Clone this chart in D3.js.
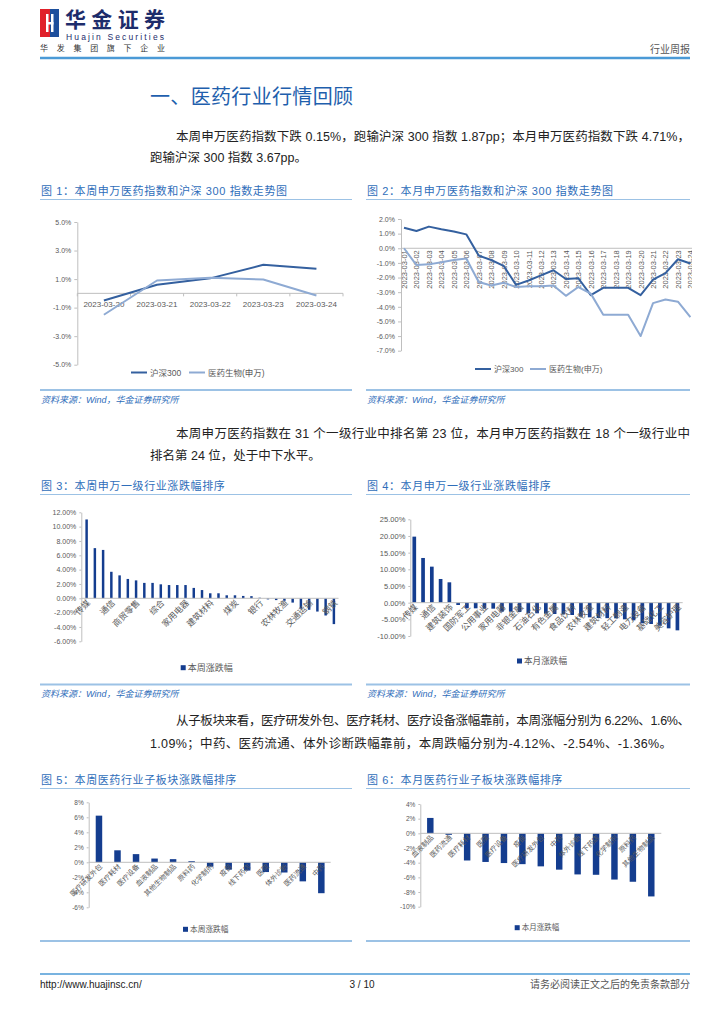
<!DOCTYPE html>
<html>
<head>
<meta charset="utf-8">
<script src="https://cdn.jsdelivr.net/npm/d3@7.9.0/dist/d3.min.js"></script>
<style>
  body { margin: 0; background: #fff; }
  svg { display: block; }
  text { font-family: "Liberation Sans", "Noto Sans CJK SC", sans-serif; }
</style>
</head>
<body>
<svg id="page" width="724" height="1024"></svg>
<script>
// ---- data ----
const weekDates = ['2023-03-20', '2023-03-21', '2023-03-22', '2023-03-23', '2023-03-24'];
const weekHs300 = [-0.5, 0.6, 1.05, 2.0, 1.72];
const weekPharma = [-1.5, 0.9, 1.1, 0.97, -0.15];

const monthDates = ['2023-03-01', '2023-03-02', '2023-03-03', '2023-03-04', '2023-03-05', '2023-03-06',
  '2023-03-07', '2023-03-08', '2023-03-09', '2023-03-10', '2023-03-11', '2023-03-12',
  '2023-03-13', '2023-03-14', '2023-03-15', '2023-03-16', '2023-03-17', '2023-03-18',
  '2023-03-19', '2023-03-20', '2023-03-21', '2023-03-22', '2023-03-23', '2023-03-24'];
const monthHs300 = [1.4, 1.18, 1.48, 1.3, 1.15, 0.95, -0.5, -0.8, -1.2, -2.5, -2.2, -1.85,
  -1.5, -2.1, -2.05, -3.2, -2.7, -2.7, -2.7, -3.2, -2.15, -1.7, -0.75, -1.04];
const monthPharma = [0, -1.15, -1.1, -0.95, -0.8, -0.7, -2.3, -2.55, -2.35, -2.65, -2.6, -2.6,
  -2.55, -3.25, -2.65, -3.1, -4.55, -4.55, -4.55, -6.0, -3.75, -3.5, -3.65, -4.71];

const indWeekNames = ['传媒', '计算机', '电子', '通信', '社会服务', '美容护理', '商贸零售', '机械设备',
  '国防军工', '综合', '汽车', '轻工制造', '家用电器', '环保', '食品饮料', '建筑材料', '纺织服饰',
  '建筑装饰', '煤炭', '公用事业', '电力设备', '银行', '医药生物', '非银金融', '农林牧渔', '基础化工',
  '石油石化', '交通运输', '房地产', '有色金属', '钢铁'];
const indWeekValues = [11.0, 7.0, 6.75, 3.7, 3.2, 2.7, 2.5, 2.15, 2.15, 1.95, 1.85, 1.85, 1.85,
  1.45, 1.15, 0.7, 0.7, 0.42, 0.42, 0.33, 0.3, 0.08, -0.15, -0.25, -0.35, -0.6, -1.45, -1.6,
  -1.85, -2.4, -3.6];

const indMonthNames = ['传媒', '计算机', '通信', '商贸零售', '建筑装饰', '煤炭', '国防军工', '银行',
  '公用事业', '综合', '家用电器', '环保', '非银金融', '房地产', '石油石化', '纺织服饰', '有色金属',
  '交通运输', '食品饮料', '机械设备', '农林牧渔', '社会服务', '建筑材料', '医药生物', '轻工制造',
  '汽车', '电力设备', '电子', '基础化工', '钢铁', '美容护理'];
const indMonthValues = [19.8, 13.4, 10.8, 7.1, 6.1, -0.7, -1.7, -1.7, -1.8, -1.8, -2.7, -2.7,
  -2.8, -3.2, -3.2, -3.3, -3.4, -3.5, -3.7, -4.2, -4.4, -4.6, -4.65, -4.71, -5.0, -5.3, -6.2,
  -6.4, -6.9, -7.7, -8.3];

const subWeekNames = ['医疗研发外包', '医疗耗材', '医疗设备', '血液制品', '其他生物制品', '原料药',
  '化学制剂', '疫苗', '线下药店', '医院', '体外诊断', '医药流通', '中药'];
const subWeekValues = [6.22, 1.6, 1.09, 0.5, 0.42, 0.15, -0.58, -0.98, -1.1, -1.3, -1.36, -2.54, -4.12];

const subMonthNames = ['血液制品', '医药流通', '医疗耗材', '医院', '医疗设备', '疫苗', '医疗研发外包',
  '中药', '体外诊断', '线下药店', '化学制剂', '原料药', '其他生物制品'];
const subMonthValues = [2.1, -0.2, -3.7, -3.9, -4.05, -4.2, -4.5, -4.95, -5.6, -5.65, -6.3, -6.6, -8.6];

// ---- styles ----
const svg = d3.select('#page');
const BLUE = '#2f6eba';
const RULE = '#9cc2e5';
const DARK = '#34609f';
const LIGHT = '#8eaad3';
const BAR = '#143d8f';
const AXIS = '#bfbfbf';
const TICK = '#595959';

// ---- page furniture ----
function header() {
  svg.append('rect').attr('x', 40).attr('y', 9).attr('width', 10).attr('height', 28).attr('fill', '#e0202a');
  svg.append('rect').attr('x', 50).attr('y', 9).attr('width', 9).attr('height', 28).attr('fill', '#1d4f9c');
  svg.append('rect').attr('x', 46).attr('y', 14).attr('width', 2.5).attr('height', 18).attr('fill', '#fff');
  svg.append('rect').attr('x', 51).attr('y', 14).attr('width', 2.5).attr('height', 18).attr('fill', '#fff');
  svg.append('rect').attr('x', 46).attr('y', 22).attr('width', 7.5).attr('height', 2.5).attr('fill', '#fff');
  svg.append('text').attr('x', 65).attr('y', 27).attr('font-size', 21).attr('font-weight', 'bold')
    .attr('fill', '#1d2c6b').attr('textLength', 100).text('华金证券');
  svg.append('text').attr('x', 66).attr('y', 40).attr('font-size', 8.5).attr('fill', '#1d2c6b')
    .attr('textLength', 98).text('Huajin Securities');
  svg.append('text').attr('x', 40).attr('y', 51).attr('font-size', 8).attr('fill', '#333')
    .attr('textLength', 125).text('华发集团旗下企业');
  svg.append('text').attr('x', 690).attr('y', 53).attr('font-size', 10).attr('fill', '#555')
    .attr('text-anchor', 'end').text('行业周报');
  svg.append('line').attr('x1', 40).attr('x2', 690).attr('y1', 58).attr('y2', 58)
    .attr('stroke', '#4b9ad6').attr('stroke-width', 2.5);
}

function footer() {
  svg.append('line').attr('x1', 40).attr('x2', 690).attr('y1', 974).attr('y2', 974)
    .attr('stroke', '#4b9ad6').attr('stroke-width', 1.5);
  svg.append('text').attr('x', 40).attr('y', 988).attr('font-size', 10).attr('fill', '#222')
    .text('http://www.huajinsc.cn/');
  svg.append('text').attr('x', 362).attr('y', 988).attr('font-size', 10).attr('fill', '#222')
    .attr('text-anchor', 'middle').text('3 / 10');
  svg.append('text').attr('x', 690).attr('y', 988).attr('font-size', 10).attr('fill', '#555')
    .attr('text-anchor', 'end').text('请务必阅读正文之后的免责条款部分');
}

function para(x, y, text, width) {
  const t = svg.append('text').attr('x', x).attr('y', y).attr('font-size', 12.5).attr('fill', '#222').text(text);
  if (width) t.attr('textLength', width).attr('lengthAdjust', 'spacing');
}

function figTitle(x0, x1, y, text) {
  svg.append('text').attr('x', x0 + 1).attr('y', y).attr('font-size', 11).attr('fill', BLUE)
    .attr('letter-spacing', 0.6).text(text);
  svg.append('line').attr('x1', x0).attr('x2', x1).attr('y1', y + 4.5).attr('y2', y + 4.5)
    .attr('stroke', RULE).attr('stroke-width', 1);
}

function figBottom(x0, x1, y) {
  svg.append('line').attr('x1', x0).attr('x2', x1).attr('y1', y).attr('y2', y)
    .attr('stroke', RULE).attr('stroke-width', 2);
}

function source(x, y) {
  svg.append('text').attr('x', x).attr('y', y).attr('font-size', 9).attr('fill', BLUE)
    .attr('font-style', 'italic').text('资料来源：Wind，华金证券研究所');
}

function styleAxis(a, fs) {
  a.select('.domain').attr('stroke', AXIS);
  a.selectAll('.tick line').attr('stroke', AXIS);
  a.selectAll('.tick text').attr('font-size', fs).attr('fill', TICK)
    .style('font-family', '"Liberation Sans", sans-serif');
}

function legendLine(x, y, color, label, fs) {
  svg.append('line').attr('x1', x).attr('x2', x + 16).attr('y1', y).attr('y2', y)
    .attr('stroke', color).attr('stroke-width', 2);
  svg.append('text').attr('x', x + 19).attr('y', y + fs * 0.36).attr('font-size', fs).attr('fill', TICK).text(label);
}

function legendSquare(x, y, label, fs) {
  svg.append('rect').attr('x', x).attr('y', y - 2.5).attr('width', 5).attr('height', 5).attr('fill', BAR);
  svg.append('text').attr('x', x + 7).attr('y', y + fs * 0.36).attr('font-size', fs).attr('fill', TICK).text(label);
}

// ---- line charts ----
function lineChart(o) {
  const g = svg.append('g');
  if (o.clipRight) {
    const id = 'clip' + Math.round(o.axisX);
    svg.append('clipPath').attr('id', id).append('rect')
      .attr('x', o.axisX - 60).attr('y', o.yRange[1] - 10).attr('width', o.clipRight - o.axisX + 60).attr('height', 200);
    g.attr('clip-path', `url(#${id})`);
  }
  const y = d3.scaleLinear().domain(o.yDomain).range(o.yRange);
  const x = o.banded
    ? d3.scaleBand().domain(o.cats).range(o.xRange)
    : d3.scalePoint().domain(o.cats).range(o.xRange);
  const cx = c => o.banded ? x(c) + x.bandwidth() / 2 : x(c);

  const ya = g.append('g').attr('transform', `translate(${o.axisX},0)`)
    .call(d3.axisLeft(y).tickValues(o.yTicks).tickSize(3).tickSizeOuter(0).tickFormat(o.fmt));
  styleAxis(ya, o.tickFs);

  // category axis sits on the zero line
  const xa = g.append('g').attr('transform', `translate(0,${y(0)})`)
    .call(d3.axisBottom(x).tickSize(0).tickSizeOuter(0).tickFormat(''));
  xa.select('.domain').attr('stroke', AXIS).attr('d', `M${o.axisX},0H${o.xEnd}`);
  if (o.banded) {
    o.cats.forEach((c, i) => {
      g.append('line').attr('x1', x(c)).attr('x2', x(c)).attr('y1', y(0)).attr('y2', y(0) + 3).attr('stroke', AXIS);
    });
    g.append('line').attr('x1', o.xRange[1]).attr('x2', o.xRange[1]).attr('y1', y(0)).attr('y2', y(0) + 3).attr('stroke', AXIS);
  }
  o.cats.forEach(c => {
    const t = g.append('text').attr('font-size', o.catFs).attr('fill', TICK)
      .style('font-family', '"Liberation Sans", sans-serif').text(c);
    if (o.rotate) {
      t.attr('transform', `translate(${cx(c) + 3},${y(0) + 2}) rotate(-90)`).attr('text-anchor', 'end');
    } else {
      t.attr('x', cx(c)).attr('y', y(0) + 14).attr('text-anchor', 'middle');
    }
  });

  const line = d3.line().x((d, i) => cx(o.cats[i])).y(d => y(d));
  o.series.forEach(s => {
    g.append('path').datum(s.values).attr('d', line).attr('fill', 'none')
      .attr('stroke', s.color).attr('stroke-width', 2).attr('stroke-linejoin', 'round');
  });
}

// ---- bar charts ----
function barChart(o) {
  const y = d3.scaleLinear().domain(o.yDomain).range(o.yRange);
  const x = d3.scaleBand().domain(o.cats).range(o.xRange).paddingInner(o.pad).paddingOuter(o.pad / 2);
  const g = svg.append('g');

  const ya = g.append('g').attr('transform', `translate(${o.axisX},0)`)
    .call(d3.axisLeft(y).tickValues(o.yTicks).tickSize(2).tickSizeOuter(0).tickFormat(o.fmt));
  styleAxis(ya, o.tickFs);

  g.selectAll('rect.bar').data(o.values).join('rect').attr('class', 'bar')
    .attr('x', (d, i) => x(o.cats[i]))
    .attr('width', x.bandwidth())
    .attr('y', d => y(Math.max(0, d)))
    .attr('height', d => Math.abs(y(d) - y(0)))
    .attr('fill', BAR);

  g.append('line').attr('x1', o.axisX).attr('x2', o.xEnd).attr('y1', y(0)).attr('y2', y(0))
    .attr('stroke', AXIS);

  o.cats.forEach((c, i) => {
    if (i % o.labelEvery !== 0) return;
    g.append('text').attr('font-size', o.catFs).attr('fill', TICK).attr('text-anchor', 'end')
      .attr('transform', `translate(${x(c) + x.bandwidth() / 2 + 2},${y(0) + 3}) rotate(-45)`)
      .attr('dy', '0.35em').text(c);
  });

  legendSquare(o.legend[0], o.legend[1], o.legendLabel, o.legendFs);
}

// ---- build page ----
header();

svg.append('text').attr('x', 150).attr('y', 104).attr('font-size', 20).attr('fill', '#1f5fad')
  .attr('textLength', 203).text('一、医药行业行情回顾');

para(176, 141, '本周申万医药指数下跌 0.15%，跑输沪深 300 指数 1.87pp；本月申万医药指数下跌 4.71%，', 514);
para(150, 162, '跑输沪深 300 指数 3.67pp。');

figTitle(40, 352, 195, '图 1：本周申万医药指数和沪深 300 指数走势图');
figTitle(366, 690, 195, '图 2：本月申万医药指数和沪深 300 指数走势图');

lineChart({
  cats: weekDates, banded: true, xRange: [77.3, 343], axisX: 77.3, xEnd: 343,
  yDomain: [-5, 5], yRange: [364.7, 222], yTicks: [-5, -3, -1, 1, 3, 5],
  fmt: d => d.toFixed(1) + '%', tickFs: 7, catFs: 8,
  series: [{ values: weekHs300, color: DARK }, { values: weekPharma, color: LIGHT }]
});
legendLine(131, 372.5, DARK, '沪深300', 8.5);
legendLine(189, 372.5, LIGHT, '医药生物(申万)', 8.5);

lineChart({
  cats: monthDates, banded: false, xRange: [404, 690.4], axisX: 401, xEnd: 692, clipRight: 692,
  yDomain: [-7, 2], yRange: [350.7, 219], yTicks: [-7, -6, -5, -4, -3, -2, -1, 0, 1, 2],
  fmt: d => d.toFixed(1) + '%', tickFs: 7, catFs: 7.5, rotate: true,
  series: [{ values: monthHs300, color: DARK }, { values: monthPharma, color: LIGHT }]
});
legendLine(475, 369, DARK, '沪深300', 8);
legendLine(530, 369, LIGHT, '医药生物(申万)', 8);

figBottom(40, 352, 390);
figBottom(366, 690, 390);
source(41, 403);
source(367, 403);

para(176, 438, '本周申万医药指数在 31 个一级行业中排名第 23 位，本月申万医药指数在 18 个一级行业中', 514);
para(150, 460, '排名第 24 位，处于中下水平。');

figTitle(40, 352, 490, '图 3：本周申万一级行业涨跌幅排序');
figTitle(366, 690, 490, '图 4：本月申万一级行业涨跌幅排序');

barChart({
  cats: indWeekNames, values: indWeekValues, xRange: [82.5, 338], pad: 0.7, axisX: 81.3, xEnd: 338.5,
  yDomain: [-6, 12], yRange: [641.3, 512.3], yTicks: d3.range(-6, 13, 2),
  fmt: d => d.toFixed(2) + '%', tickFs: 7, catFs: 8.5, labelEvery: 3,
  legend: [180.7, 667.7], legendLabel: '本周涨跌幅', legendFs: 9
});

barChart({
  cats: indMonthNames, values: indMonthValues, xRange: [409.9, 681.8], pad: 0.58, axisX: 410.3, xEnd: 682.7,
  yDomain: [-10, 25], yRange: [636, 519.3], yTicks: d3.range(-10, 26, 5),
  fmt: d => d.toFixed(2) + '%', tickFs: 7.5, catFs: 8.5, labelEvery: 2,
  legend: [517, 661], legendLabel: '本月涨跌幅', legendFs: 8.6
});

figBottom(40, 352, 684.5);
figBottom(366, 690, 684.5);
source(41, 697);
source(367, 697);

para(176, 724.5, '从子板块来看，医疗研发外包、医疗耗材、医疗设备涨幅靠前，本周涨幅分别为 6.22%、1.6%、', 514);
para(150, 747.5, '1.09%；中药、医药流通、体外诊断跌幅靠前，本周跌幅分别为-4.12%、-2.54%、-1.36%。', 522);

figTitle(40, 352, 784, '图 5：本周医药行业子板块涨跌幅排序');
figTitle(366, 690, 784, '图 6：本月医药行业子板块涨跌幅排序');

barChart({
  cats: subWeekNames, values: subWeekValues, xRange: [89.7, 330.6], pad: 0.65, axisX: 88.7, xEnd: 330.7,
  yDomain: [-6, 8], yRange: [907.3, 802.3], yTicks: d3.range(-6, 9, 2),
  fmt: d => d + '%', tickFs: 6.5, catFs: 7, labelEvery: 1,
  legend: [183, 929.3], legendLabel: '本周涨跌幅', legendFs: 7.7
});

barChart({
  cats: subMonthNames, values: subMonthValues, xRange: [421.1, 660.5], pad: 0.65, axisX: 420.3, xEnd: 661.3,
  yDomain: [-10, 4], yRange: [906.7, 804], yTicks: d3.range(-10, 5, 2),
  fmt: d => d + '%', tickFs: 6.5, catFs: 7, labelEvery: 1,
  legend: [514.7, 927.7], legendLabel: '本月涨跌幅', legendFs: 7.5
});

figBottom(40, 352, 941);
figBottom(366, 690, 941);

footer();
</script>
</body>
</html>
